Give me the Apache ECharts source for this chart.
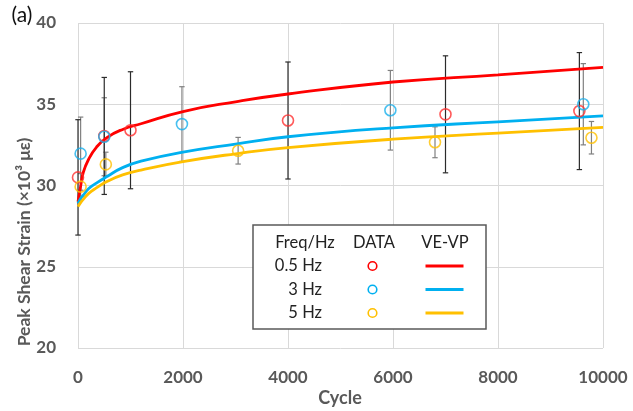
<!DOCTYPE html>
<html>
<head>
<meta charset="utf-8">
<script src="https://cdn.jsdelivr.net/npm/echarts@6/dist/echarts.min.js"></script>
<style>html,body{margin:0;padding:0;background:#fff;}#chart{width:633px;height:411px;}</style>
</head>
<body>
<div id="chart"></div>
<script>
// Measured data points (cycle, peak shear strain, error half-width)
const redX = [0, 500, 1000, 4000, 7000, 9550];
const redY = [30.5, 33.05, 33.4, 34.0, 34.38, 34.58];
const redErr = [3.55, 3.6, 3.6, 3.6, 3.6, 3.6];
const blueX = [50, 500, 1980, 5950, 9625];
const blueY = [31.96, 33.0, 33.78, 34.63, 35.0];
const blueErr = [2.25, 2.4, 2.3, 2.45, 2.5];
const yellowX = [50, 530, 3050, 6800, 9780];
const yellowY = [29.93, 31.3, 32.14, 32.66, 32.94];
const yellowErr = [0.8, 0.75, 0.82, 0.95, 1.0];

// VE-VP model curves
const modelX = [0, 50, 100, 200, 350, 550, 850, 1200, 2000, 3000, 4000, 6000, 8000, 10000];
const modelRed = [29.0, 29.95, 30.8, 31.6, 32.35, 32.95, 33.45, 33.8, 34.55, 35.15, 35.63, 36.37, 36.81, 37.27];
const modelBlue = [28.9, 29.2, 29.4, 29.8, 30.15, 30.55, 31.1, 31.5, 32.05, 32.55, 33.0, 33.55, 33.92, 34.28];
const modelYellow = [28.7, 28.95, 29.15, 29.5, 29.85, 30.25, 30.65, 30.95, 31.47, 31.95, 32.33, 32.85, 33.22, 33.58];

const xTicks = [0, 2000, 4000, 6000, 8000, 10000];
const yTicks = [20, 25, 30, 35, 40];
const freqLabels = ['0.5 Hz', '3 Hz', '5 Hz'];

const RED = '#ff0000', BLUE = '#00b0f0', YEL = '#ffc000';
const FONT = 'Lato, "Open Sans", sans-serif';

function zip(xs, ys) { return xs.map((x, i) => [x, ys[i]]); }
function zip3(xs, ys, es) { return xs.map((x, i) => [x, ys[i], es[i]]); }

function errorSeries(data, color) {
  return {
    type: 'custom',
    data: data,
    z: 2,
    renderItem: function (params, api) {
      const x = api.value(0), y = api.value(1), e = api.value(2);
      const top = api.coord([x, y + e]);
      const bot = api.coord([x, y - e]);
      const hw = 2.7;
      const st = { stroke: color, lineWidth: 1.2 };
      return {
        type: 'group',
        children: [
          { type: 'line', shape: { x1: top[0], y1: top[1], x2: bot[0], y2: bot[1] }, style: st },
          { type: 'line', shape: { x1: top[0] - hw, y1: top[1], x2: top[0] + hw, y2: top[1] }, style: st },
          { type: 'line', shape: { x1: bot[0] - hw, y1: bot[1], x2: bot[0] + hw, y2: bot[1] }, style: st }
        ]
      };
    }
  };
}

function lineSeries(ys, color) {
  return {
    type: 'line', data: zip(modelX, ys), showSymbol: false, symbol: 'none',
    smooth: 0.5, z: 3,
    lineStyle: { color: color, width: 2.8 }
  };
}

function scatterSeries(xs, ys, color) {
  return {
    type: 'scatter', data: zip(xs, ys), symbol: 'circle', symbolSize: 11, z: 4,
    itemStyle: { color: 'rgba(0,0,0,0)', borderColor: color, borderWidth: 1.6 }
  };
}

const chart = echarts.init(document.getElementById('chart'), null, { renderer: 'canvas' });

const legendGraphic = [];
legendGraphic.push({ type: 'rect', shape: { x: 253, y: 225, width: 233, height: 104 },
  style: { fill: '#fff', stroke: '#595959', lineWidth: 1.5 }, z: 100 });
const headTxt = [['Freq/Hz', 305], ['DATA', 374], ['VE-VP', 445]];
headTxt.forEach(h => legendGraphic.push({ type: 'text', x: h[1], y: 243, z: 101,
  style: { text: h[0], font: '16.5px ' + FONT, fill: '#222', align: 'center', verticalAlign: 'middle' } }));
const colors = [RED, BLUE, YEL];
const rowY = [266, 289.5, 313];
freqLabels.forEach((t, i) => {
  legendGraphic.push({ type: 'text', x: 322, y: rowY[i], z: 101,
    style: { text: t, font: '16.5px ' + FONT, fill: '#222', align: 'right', verticalAlign: 'middle' } });
  legendGraphic.push({ type: 'circle', shape: { cx: 372.5, cy: rowY[i], r: 4.3 }, z: 101,
    style: { fill: 'none', stroke: colors[i], lineWidth: 1.6 } });
  legendGraphic.push({ type: 'line', shape: { x1: 425.5, y1: rowY[i], x2: 463.5, y2: rowY[i] }, z: 101,
    style: { stroke: colors[i], lineWidth: 2.8 } });
});

const option = {
  backgroundColor: '#fff',
  animation: false,
  grid: { left: 78, right: 30, top: 23, bottom: 63, containLabel: false },
  xAxis: {
    type: 'value', min: 0, max: 10000, interval: 2000,
    axisLine: { show: false }, axisTick: { show: false },
    splitLine: { show: true, lineStyle: { color: '#d9d9d9', width: 1 } },
    axisLabel: { margin: 21, color: '#595959', fontSize: 17, fontWeight: 'bold', fontFamily: FONT,
      formatter: v => xTicks.includes(v) ? String(v) : '' }
  },
  yAxis: {
    type: 'value', min: 20, max: 40, interval: 5,
    axisLine: { show: false }, axisTick: { show: false },
    splitLine: { show: true, lineStyle: { color: '#d9d9d9', width: 1 } },
    axisLabel: { margin: 22, color: '#595959', fontSize: 17, fontWeight: 'bold', fontFamily: FONT,
      formatter: v => yTicks.includes(v) ? String(v) : '' }
  },
  series: [
    errorSeries(zip3(blueX, blueY, blueErr), '#808080'),
    errorSeries(zip3(yellowX, yellowY, yellowErr), '#808080'),
    errorSeries(zip3(redX, redY, redErr), '#2b2b2b'),
    lineSeries(modelRed, RED),
    lineSeries(modelBlue, BLUE),
    lineSeries(modelYellow, YEL),
    scatterSeries(redX, redY, '#ff3030'),
    scatterSeries(blueX, blueY, '#1ab0ec'),
    scatterSeries(yellowX, yellowY, '#ffc000')
  ],
  graphic: [
    { type: 'text', x: 22, y: 15, style: { text: '(a)', font: '21px ' + FONT, fill: '#111', align: 'center', verticalAlign: 'middle' } },
    { type: 'text', x: 24, y: 242, rotation: Math.PI / 2,
      style: { text: 'Peak Shear Strain (×10³ με)', font: 'bold 17.5px ' + FONT, fill: '#595959', align: 'center', verticalAlign: 'middle' } },
    { type: 'text', x: 340, y: 398, style: { text: 'Cycle', font: 'bold 18px ' + FONT, fill: '#595959', align: 'center', verticalAlign: 'middle' } }
  ].concat(legendGraphic)
};
chart.setOption(option);
</script>
</body>
</html>
